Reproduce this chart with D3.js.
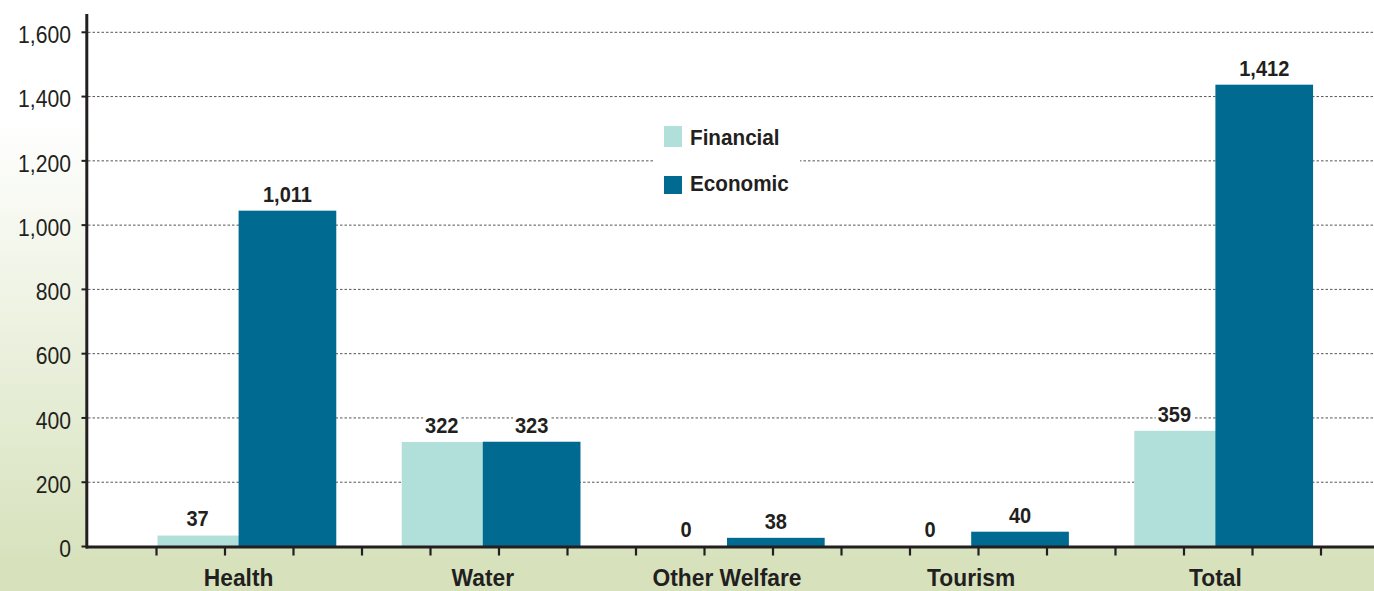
<!DOCTYPE html>
<html>
<head>
<meta charset="utf-8">
<script src="https://cdn.jsdelivr.net/npm/d3@7"></script>
<style>
  html, body { margin: 0; padding: 0; background: #fff; }
  svg { display: block; font-family: "Liberation Sans", Arial, sans-serif; }
</style>
</head>
<body>
<svg id="chart" width="1374" height="591"></svg>
<script>
// ---- data ----
const categories = ["Health", "Water", "Other Welfare", "Tourism", "Total"];
const seriesNames = ["Financial", "Economic"];
const financialValues = [34, 325, 0, 0, 360];
const economicValues = [1045, 326, 27, 46, 1437];
const financialLabels = ["37", "322", "0", "0", "359"];
const economicLabels = ["1,011", "323", "38", "40", "1,412"];
const yTicks = [0, 200, 400, 600, 800, 1000, 1200, 1400, 1600];
const minorTickCount = 20;

// ---- styles ----
const colors = { Financial: "#b1dfd9", Economic: "#006a90" };
const ink = "#231f20";
const W = 1374, H = 591;
const plotLeft = 88, plotBottom = 546.5, plotTop = 32.3;

const svg = d3.select("#chart");

// text helper: places text at (x,y) with horizontal condensing
function addText(parent, x, y, str, opts) {
  const g = parent.append("g").attr("transform", `translate(${x},${y}) scale(${opts.sx || 1},1)`);
  const t = g.append("text").attr("x", 0).attr("y", 0)
    .attr("text-anchor", opts.anchor || "start")
    .attr("dominant-baseline", opts.baseline || "auto")
    .attr("font-size", opts.size).attr("font-weight", opts.weight || "normal")
    .attr("fill", ink).text(str);
  return { g, t };
}

// background gradient
const defs = svg.append("defs");
const grad = defs.append("linearGradient")
  .attr("id", "bg").attr("gradientUnits", "userSpaceOnUse")
  .attr("x1", 0).attr("y1", 120).attr("x2", 0).attr("y2", 560);
grad.append("stop").attr("offset", 0).attr("stop-color", "#ffffff");
grad.append("stop").attr("offset", 1).attr("stop-color", "#d7e2bd");
svg.append("rect").attr("width", W).attr("height", H).attr("fill", "url(#bg)");
svg.append("rect").attr("x", plotLeft).attr("y", 0)
  .attr("width", W - plotLeft).attr("height", plotBottom).attr("fill", "#ffffff");

// scales
const y = d3.scaleLinear().domain([0, 1600]).range([plotBottom, plotTop]);
const x = d3.scaleBand().domain(categories).range([116.5, 116.5 + 244.2 * 5]).padding(0);
const bw = x.bandwidth();
const barW = bw * 0.4;
const center = c => x(c) + bw / 2;
const sub = d3.scaleOrdinal().domain(seriesNames).range([-bw * 0.332, 0]);
const minor = d3.scaleLinear().domain([0, minorTickCount - 1]).range([plotLeft, plotLeft + 68.5 * (minorTickCount - 1)]);

// gridlines
svg.append("g").selectAll("line").data(yTicks.filter(d => d > 0)).join("line")
  .attr("x1", plotLeft).attr("x2", W)
  .attr("y1", d => y(d)).attr("y2", d => y(d))
  .attr("stroke", "#555").attr("stroke-width", 1).attr("stroke-dasharray", "2.5,2");

// legend box (covers gridline)
const lg = svg.append("g");
lg.append("rect").attr("x", 653).attr("y", 118).attr("width", 147).attr("height", 84).attr("fill", "#fff");
seriesNames.forEach((s, i) => {
  lg.append("rect").attr("x", 664).attr("y", 126 + i * 50).attr("width", 18).attr("height", i === 0 ? 21 : 18)
    .attr("fill", colors[s]);
  addText(lg, 690, 145 + i * 46, s, { size: 22, weight: "bold", sx: 0.94 });
});

// bars
const rows = categories.map((c, i) => ({
  c, fin: financialValues[i], eco: economicValues[i], finL: financialLabels[i], ecoL: economicLabels[i]
}));
const barsG = svg.append("g");
barsG.selectAll("rect.fin").data(rows).join("rect").attr("class", "fin")
  .attr("x", d => center(d.c) + sub("Financial"))
  .attr("width", barW)
  .attr("y", d => y(d.fin))
  .attr("height", d => Math.max(1, y(0) - y(d.fin)))
  .attr("fill", colors.Financial);
barsG.selectAll("rect.eco").data(rows).join("rect").attr("class", "eco")
  .attr("x", d => center(d.c) + sub("Economic"))
  .attr("width", barW)
  .attr("y", d => y(d.eco))
  .attr("height", d => Math.max(1, y(0) - y(d.eco)))
  .attr("fill", colors.Economic);

// value labels with white backgrounds
const labels = [];
rows.forEach(d => {
  labels.push({ x: center(d.c) + sub("Financial") + barW * 0.41, v: d.fin, t: d.finL });
  labels.push({ x: center(d.c) + sub("Economic") + barW / 2, v: d.eco, t: d.ecoL });
});
const lblG = svg.append("g");
labels.forEach(l => {
  const sx = 0.91;
  const holder = lblG.append("g");
  const bg = holder.append("rect").attr("fill", "#fff");
  const { t } = addText(holder, l.x, y(l.v) - 17, l.t, { size: 22, weight: "bold", sx, anchor: "middle", baseline: "central" });
  const b = t.node().getBBox();
  bg.attr("x", l.x + (b.x - 2) * sx).attr("y", y(l.v) - 17 + b.y + 2)
    .attr("width", (b.width + 4) * sx).attr("height", b.height - 4);
});

// x axis line and minor ticks
svg.append("line").attr("x1", plotLeft - 2).attr("x2", W).attr("y1", y(0) + 0.5).attr("y2", y(0) + 0.5)
  .attr("stroke", ink).attr("stroke-width", 3);
svg.append("g").selectAll("line").data(d3.range(1, minorTickCount)).join("line")
  .attr("x1", d => minor(d)).attr("x2", d => minor(d))
  .attr("y1", y(0)).attr("y2", y(0) + 9)
  .attr("stroke", ink).attr("stroke-width", 2.2);

// category labels
const catG = svg.append("g");
categories.forEach(c => addText(catG, center(c), 586, c, { size: 23.5, weight: "bold", sx: 0.97, anchor: "middle" }));

// y axis
svg.append("line").attr("x1", plotLeft - 1.2).attr("x2", plotLeft - 1.2).attr("y1", 14).attr("y2", y(0) + 2)
  .attr("stroke", ink).attr("stroke-width", 3);
const ya = svg.append("g");
ya.selectAll("line").data(yTicks).join("line")
  .attr("x1", 81.5).attr("x2", plotLeft).attr("y1", d => y(d)).attr("y2", d => y(d))
  .attr("stroke", ink).attr("stroke-width", 2);
yTicks.forEach(d => addText(ya, 71, y(d) + 3, d3.format(",")(d), { size: 23, sx: 0.92, anchor: "end", baseline: "central" }));
</script>
</body>
</html>
